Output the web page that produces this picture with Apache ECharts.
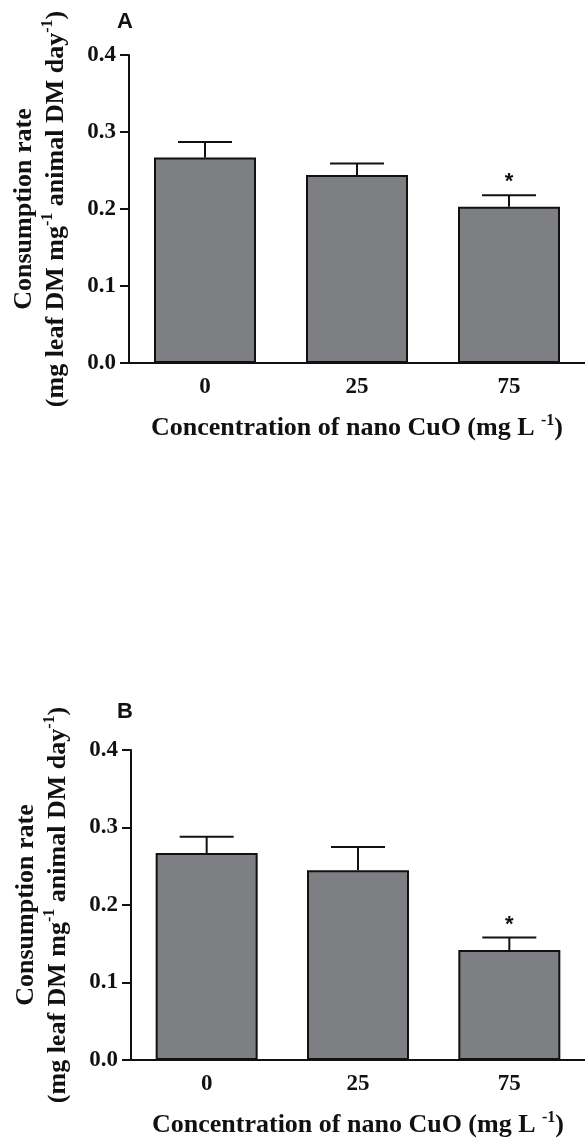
<!DOCTYPE html>
<html>
<head>
<meta charset="utf-8">
<script src="https://cdn.jsdelivr.net/npm/echarts@6/dist/echarts.min.js"></script>
<style>
html, body { margin: 0; padding: 0; background: #fff; }
#main { width: 585px; height: 1148px; }
</style>
</head>
<body>
<div id="main"></div>
<script>
// nano CuO concentration (mg/L)
var categories = ['0', '25', '75'];

// panel A: mean and SE of consumption rate
var meanA = [0.267, 0.244, 0.203];
var seA = [0.020, 0.015, 0.015];
var starA = [false, false, true];

// panel B
var meanB = [0.267, 0.245, 0.142];
var seB = [0.021, 0.030, 0.016];
var starB = [false, false, true];

var serif = '"Liberation Serif", "Times New Roman", serif';
var sans = '"Liberation Sans", Arial, sans-serif';
var ink = '#111';
var barColor = '#7e7f83';

var yName = 'Consumption rate\n(mg leaf DM mg{sup|-1} animal DM day{sup|-1})';
var xName = 'Concentration of nano CuO (mg L {sup|-1})';

function supRich() {
  return {
    sup: { fontFamily: serif, fontWeight: 'bold', fontSize: 16, color: ink, verticalAlign: 'top', lineHeight: 24 }
  };
}

function makeX(gridIndex) {
  return {
    type: 'category',
    gridIndex: gridIndex,
    data: categories,
    boundaryGap: true,
    axisLine: { lineStyle: { color: ink, width: 2 } },
    axisTick: { alignWithLabel: true, length: 8, lineStyle: { color: ink, width: 2 } },
    axisLabel: { color: ink, fontFamily: serif, fontWeight: 'bold', fontSize: 23, margin: 13 },
    name: xName,
    nameLocation: 'middle',
    nameGap: 50,
    nameTextStyle: { color: ink, fontFamily: serif, fontWeight: 'bold', fontSize: 26, lineHeight: 30, rich: supRich() }
  };
}

function makeY(gridIndex) {
  return {
    type: 'value',
    gridIndex: gridIndex,
    min: 0,
    max: 0.4,
    interval: 0.1,
    splitLine: { show: false },
    axisLine: { show: true, lineStyle: { color: ink, width: 2 } },
    axisTick: { show: true, length: 9, lineStyle: { color: ink, width: 2 } },
    axisLabel: {
      color: ink, fontFamily: serif, fontWeight: 'bold', fontSize: 23, margin: 13,
      formatter: function (v) { return v.toFixed(1); }
    },
    name: yName,
    nameLocation: 'middle',
    nameRotate: 90,
    nameGap: 57,
    nameTextStyle: { color: ink, fontFamily: serif, fontWeight: 'bold', fontSize: 26, lineHeight: 32, rich: supRich() }
  };
}

function makeBars(gridIndex, means) {
  return {
    type: 'bar',
    xAxisIndex: gridIndex,
    yAxisIndex: gridIndex,
    data: means,
    barWidth: 102,
    itemStyle: { color: barColor, borderColor: ink, borderWidth: 2 },
    z: 2
  };
}

function makeErrors(gridIndex, means, se, stars) {
  return {
    type: 'custom',
    xAxisIndex: gridIndex,
    yAxisIndex: gridIndex,
    data: means.map(function (m, i) { return [i, m, m + se[i], stars[i] ? 1 : 0]; }),
    renderItem: function (params, api) {
      var base = api.coord([api.value(0), api.value(1)]);
      var top = api.coord([api.value(0), api.value(2)]);
      var cap = 27;
      var lineStyle = { stroke: ink, lineWidth: 2 };
      var kids = [
        { type: 'line', shape: { x1: base[0], y1: base[1], x2: top[0], y2: top[1] }, style: lineStyle },
        { type: 'line', shape: { x1: top[0] - cap, y1: top[1], x2: top[0] + cap, y2: top[1] }, style: lineStyle }
      ];
      if (api.value(3)) {
        kids.push({
          type: 'text', x: top[0], y: top[1] - 13,
          style: { text: '*', font: 'bold 22px ' + sans, fill: ink, align: 'center', verticalAlign: 'middle' }
        });
      }
      return { type: 'group', children: kids };
    },
    z: 3
  };
}

var chart = echarts.init(document.getElementById('main'));
var option = {
  animation: false,
  backgroundColor: '#fff',
  title: [
    { text: 'A', left: 117, top: 11, padding: 0, textStyle: { fontFamily: sans, fontWeight: 'bold', fontSize: 22, color: ink } },
    { text: 'B', left: 117, top: 701, padding: 0, textStyle: { fontFamily: sans, fontWeight: 'bold', fontSize: 22, color: ink } }
  ],
  grid: [
    { left: 128, top: 55, width: 462, height: 308 },
    { left: 131, top: 750, width: 468, height: 310 }
  ],
  xAxis: [makeX(0), makeX(1)],
  yAxis: [makeY(0), makeY(1)],
  series: [
    makeBars(0, meanA),
    makeErrors(0, meanA, seA, starA),
    makeBars(1, meanB),
    makeErrors(1, meanB, seB, starB)
  ]
};
chart.setOption(option);
window.onresize = function () {
  chart.resize();
};
</script>
</body>
</html>
